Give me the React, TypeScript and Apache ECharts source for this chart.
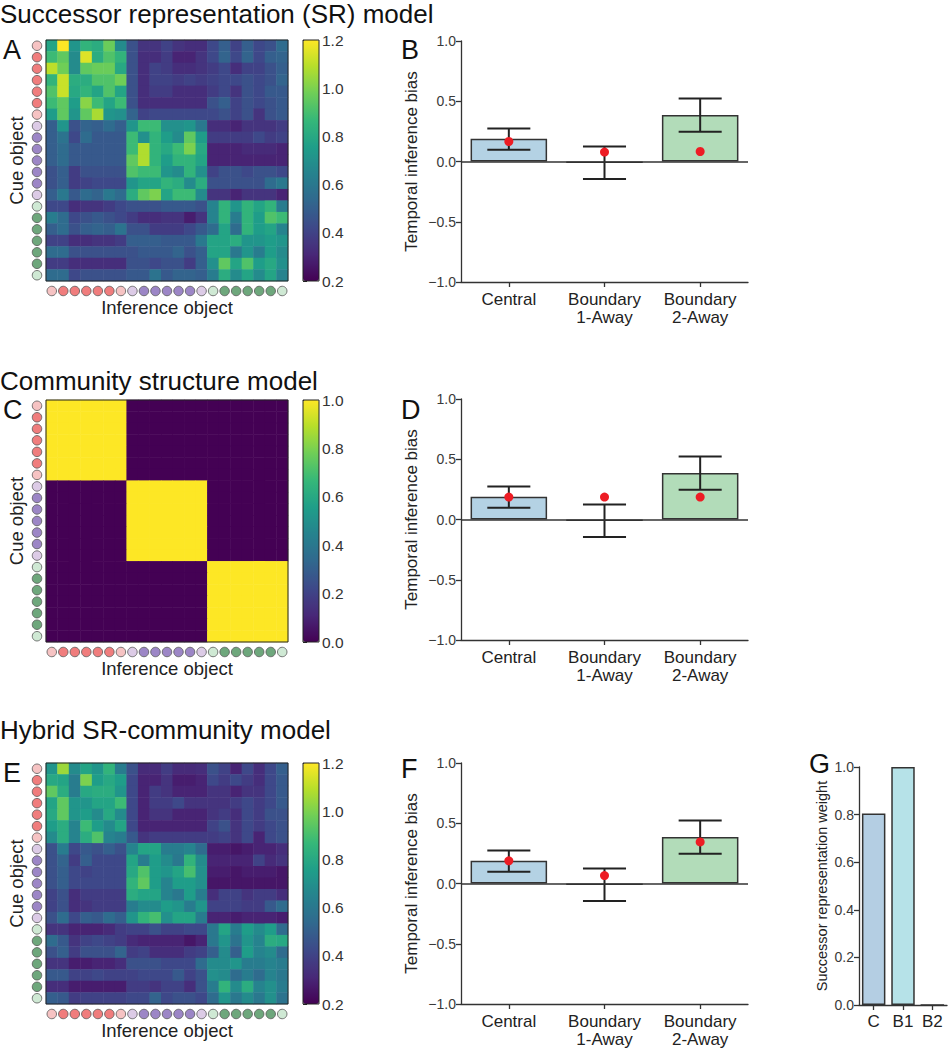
import React, { useEffect, useRef } from 'react';
import * as echarts from 'echarts';

const FONT = '"Liberation Sans", Arial, Helvetica, sans-serif';

const viridis = ['#440154', '#482878', '#3e4989', '#31688e', '#26828e', '#1f9e89', '#35b779', '#6ece58', '#b5de2b', '#fde725'];

const objectIds = ['1', '2', '3', '4', '5', '6', '7', '8', '9', '10', '11', '12', '13', '14', '15', '16', '17', '18', '19', '20', '21'];

const nodeColors = [
  '#f6c3c3', '#f07d7d', '#f07d7d', '#f07d7d', '#f07d7d', '#f07d7d', '#f6c3c3',
  '#dccbe6', '#9c86c6', '#9c86c6', '#9c86c6', '#9c86c6', '#9c86c6', '#dccbe6',
  '#cfe9d4', '#6ea77c', '#6ea77c', '#6ea77c', '#6ea77c', '#6ea77c', '#cfe9d4',
];

const srMatrix = [
  [0.78, 1.2, 0.72, 0.85, 0.82, 0.97, 0.68, 0.45, 0.35, 0.35, 0.4, 0.35, 0.33, 0.33, 0.42, 0.5, 0.4, 0.5, 0.42, 0.45, 0.55],
  [0.88, 0.95, 0.68, 1.15, 0.82, 0.92, 0.85, 0.45, 0.33, 0.33, 0.38, 0.3, 0.3, 0.35, 0.42, 0.52, 0.42, 0.52, 0.42, 0.5, 0.52],
  [1.1, 0.98, 0.68, 0.95, 0.97, 0.97, 0.8, 0.45, 0.33, 0.4, 0.38, 0.33, 0.33, 0.35, 0.38, 0.42, 0.33, 0.4, 0.4, 0.45, 0.5],
  [0.85, 1.12, 0.82, 0.82, 0.92, 0.92, 0.98, 0.45, 0.33, 0.4, 0.4, 0.38, 0.4, 0.38, 0.4, 0.42, 0.42, 0.45, 0.42, 0.45, 0.52],
  [0.92, 1.12, 0.8, 0.85, 0.78, 0.92, 0.78, 0.45, 0.33, 0.38, 0.38, 0.33, 0.33, 0.33, 0.38, 0.42, 0.35, 0.45, 0.42, 0.48, 0.48],
  [0.88, 0.95, 0.75, 1.02, 0.88, 0.78, 0.88, 0.45, 0.33, 0.33, 0.33, 0.33, 0.33, 0.33, 0.45, 0.5, 0.4, 0.45, 0.42, 0.45, 0.48],
  [0.75, 0.95, 0.72, 0.95, 1.07, 0.72, 0.7, 0.52, 0.4, 0.42, 0.42, 0.42, 0.42, 0.42, 0.42, 0.45, 0.4, 0.45, 0.35, 0.45, 0.48],
  [0.5, 0.72, 0.45, 0.52, 0.5, 0.55, 0.5, 0.72, 0.88, 0.88, 0.7, 0.7, 0.72, 0.6, 0.33, 0.33, 0.3, 0.35, 0.35, 0.35, 0.38],
  [0.5, 0.58, 0.42, 0.55, 0.48, 0.48, 0.48, 0.88, 0.7, 0.85, 0.75, 0.68, 0.95, 0.75, 0.38, 0.38, 0.38, 0.38, 0.42, 0.38, 0.4],
  [0.5, 0.55, 0.48, 0.48, 0.48, 0.48, 0.48, 0.88, 1.08, 0.85, 0.8, 0.88, 1.0, 0.8, 0.3, 0.3, 0.3, 0.32, 0.32, 0.32, 0.3],
  [0.5, 0.55, 0.48, 0.48, 0.48, 0.48, 0.48, 0.95, 1.08, 0.85, 0.75, 0.85, 0.85, 0.78, 0.3, 0.3, 0.3, 0.3, 0.3, 0.3, 0.3],
  [0.45, 0.5, 0.38, 0.45, 0.45, 0.45, 0.45, 0.92, 0.88, 0.88, 0.72, 0.68, 0.85, 0.7, 0.4, 0.45, 0.45, 0.42, 0.45, 0.45, 0.42],
  [0.45, 0.5, 0.38, 0.4, 0.42, 0.42, 0.42, 0.72, 0.78, 0.78, 0.85, 0.82, 0.68, 0.82, 0.45, 0.45, 0.45, 0.45, 0.45, 0.55, 0.6],
  [0.5, 0.6, 0.48, 0.55, 0.52, 0.6, 0.55, 0.82, 0.95, 1.0, 0.78, 0.88, 0.88, 0.68, 0.35, 0.35, 0.3, 0.35, 0.35, 0.35, 0.3],
  [0.42, 0.42, 0.33, 0.35, 0.35, 0.38, 0.42, 0.45, 0.45, 0.45, 0.48, 0.48, 0.48, 0.45, 0.65, 0.85, 0.72, 0.85, 0.78, 0.85, 0.62],
  [0.62, 0.55, 0.42, 0.45, 0.48, 0.45, 0.42, 0.38, 0.33, 0.33, 0.35, 0.35, 0.28, 0.35, 0.65, 0.85, 0.62, 0.85, 0.75, 0.92, 0.88],
  [0.5, 0.55, 0.45, 0.5, 0.52, 0.5, 0.58, 0.45, 0.45, 0.38, 0.38, 0.38, 0.42, 0.48, 0.55, 0.78, 0.55, 0.85, 0.75, 0.78, 0.65],
  [0.4, 0.4, 0.33, 0.33, 0.35, 0.35, 0.38, 0.5, 0.5, 0.5, 0.48, 0.48, 0.48, 0.6, 0.78, 0.78, 0.82, 0.72, 0.72, 0.75, 0.72],
  [0.55, 0.55, 0.45, 0.45, 0.45, 0.45, 0.45, 0.45, 0.48, 0.48, 0.48, 0.52, 0.45, 0.5, 0.78, 0.78, 0.6, 0.72, 0.62, 0.75, 0.68],
  [0.38, 0.38, 0.33, 0.33, 0.33, 0.33, 0.33, 0.45, 0.45, 0.42, 0.45, 0.45, 0.38, 0.5, 0.7, 0.95, 0.78, 0.92, 0.75, 0.8, 0.7],
  [0.55, 0.55, 0.42, 0.45, 0.45, 0.45, 0.45, 0.48, 0.48, 0.58, 0.48, 0.52, 0.52, 0.5, 0.62, 0.82, 0.68, 0.78, 0.68, 0.78, 0.65],
];

const communityMatrix = [
  [1, 1, 1, 1, 1, 1, 1, 0, 0, 0, 0, 0, 0, 0, 0, 0, 0, 0, 0, 0, 0],
  [1, 1, 1, 1, 1, 1, 1, 0, 0, 0, 0, 0, 0, 0, 0, 0, 0, 0, 0, 0, 0],
  [1, 1, 1, 1, 1, 1, 1, 0, 0, 0, 0, 0, 0, 0, 0, 0, 0, 0, 0, 0, 0],
  [1, 1, 1, 1, 1, 1, 1, 0, 0, 0, 0, 0, 0, 0, 0, 0, 0, 0, 0, 0, 0],
  [1, 1, 1, 1, 1, 1, 1, 0, 0, 0, 0, 0, 0, 0, 0, 0, 0, 0, 0, 0, 0],
  [1, 1, 1, 1, 1, 1, 1, 0, 0, 0, 0, 0, 0, 0, 0, 0, 0, 0, 0, 0, 0],
  [1, 1, 1, 1, 1, 1, 1, 0, 0, 0, 0, 0, 0, 0, 0, 0, 0, 0, 0, 0, 0],
  [0, 0, 0, 0, 0, 0, 0, 1, 1, 1, 1, 1, 1, 1, 0, 0, 0, 0, 0, 0, 0],
  [0, 0, 0, 0, 0, 0, 0, 1, 1, 1, 1, 1, 1, 1, 0, 0, 0, 0, 0, 0, 0],
  [0, 0, 0, 0, 0, 0, 0, 1, 1, 1, 1, 1, 1, 1, 0, 0, 0, 0, 0, 0, 0],
  [0, 0, 0, 0, 0, 0, 0, 1, 1, 1, 1, 1, 1, 1, 0, 0, 0, 0, 0, 0, 0],
  [0, 0, 0, 0, 0, 0, 0, 1, 1, 1, 1, 1, 1, 1, 0, 0, 0, 0, 0, 0, 0],
  [0, 0, 0, 0, 0, 0, 0, 1, 1, 1, 1, 1, 1, 1, 0, 0, 0, 0, 0, 0, 0],
  [0, 0, 0, 0, 0, 0, 0, 1, 1, 1, 1, 1, 1, 1, 0, 0, 0, 0, 0, 0, 0],
  [0, 0, 0, 0, 0, 0, 0, 0, 0, 0, 0, 0, 0, 0, 1, 1, 1, 1, 1, 1, 1],
  [0, 0, 0, 0, 0, 0, 0, 0, 0, 0, 0, 0, 0, 0, 1, 1, 1, 1, 1, 1, 1],
  [0, 0, 0, 0, 0, 0, 0, 0, 0, 0, 0, 0, 0, 0, 1, 1, 1, 1, 1, 1, 1],
  [0, 0, 0, 0, 0, 0, 0, 0, 0, 0, 0, 0, 0, 0, 1, 1, 1, 1, 1, 1, 1],
  [0, 0, 0, 0, 0, 0, 0, 0, 0, 0, 0, 0, 0, 0, 1, 1, 1, 1, 1, 1, 1],
  [0, 0, 0, 0, 0, 0, 0, 0, 0, 0, 0, 0, 0, 0, 1, 1, 1, 1, 1, 1, 1],
  [0, 0, 0, 0, 0, 0, 0, 0, 0, 0, 0, 0, 0, 0, 1, 1, 1, 1, 1, 1, 1],
];

const hybridMatrix = [
  [0.72, 1.05, 0.68, 0.78, 0.72, 0.85, 0.62, 0.45, 0.32, 0.32, 0.38, 0.32, 0.32, 0.33, 0.45, 0.4, 0.3, 0.42, 0.33, 0.42, 0.5],
  [0.8, 0.78, 0.62, 1.0, 0.75, 0.8, 0.75, 0.42, 0.3, 0.3, 0.35, 0.28, 0.28, 0.3, 0.42, 0.38, 0.42, 0.38, 0.33, 0.42, 0.48],
  [0.95, 0.82, 0.62, 0.8, 0.82, 0.82, 0.72, 0.42, 0.3, 0.38, 0.35, 0.3, 0.3, 0.3, 0.35, 0.35, 0.3, 0.35, 0.35, 0.42, 0.48],
  [0.78, 0.95, 0.72, 0.72, 0.78, 0.78, 0.88, 0.42, 0.3, 0.38, 0.38, 0.42, 0.35, 0.35, 0.35, 0.35, 0.38, 0.42, 0.38, 0.42, 0.48],
  [0.8, 0.95, 0.72, 0.75, 0.68, 0.8, 0.68, 0.42, 0.3, 0.35, 0.35, 0.3, 0.3, 0.3, 0.35, 0.38, 0.33, 0.42, 0.38, 0.45, 0.45],
  [0.75, 0.82, 0.65, 0.88, 0.75, 0.68, 0.78, 0.42, 0.3, 0.3, 0.3, 0.3, 0.3, 0.3, 0.4, 0.45, 0.35, 0.42, 0.38, 0.42, 0.45],
  [0.68, 0.82, 0.65, 0.82, 0.92, 0.65, 0.62, 0.48, 0.35, 0.38, 0.38, 0.38, 0.38, 0.38, 0.38, 0.4, 0.35, 0.42, 0.3, 0.42, 0.45],
  [0.45, 0.62, 0.42, 0.48, 0.45, 0.5, 0.45, 0.65, 0.78, 0.78, 0.62, 0.62, 0.65, 0.55, 0.28, 0.28, 0.26, 0.28, 0.3, 0.3, 0.33],
  [0.45, 0.52, 0.38, 0.5, 0.42, 0.42, 0.42, 0.78, 0.62, 0.75, 0.68, 0.6, 0.85, 0.68, 0.3, 0.3, 0.3, 0.3, 0.4, 0.32, 0.35],
  [0.45, 0.5, 0.42, 0.4, 0.42, 0.42, 0.42, 0.8, 0.92, 0.75, 0.72, 0.78, 0.9, 0.7, 0.28, 0.28, 0.26, 0.28, 0.28, 0.28, 0.26],
  [0.45, 0.5, 0.42, 0.42, 0.42, 0.42, 0.42, 0.85, 0.95, 0.75, 0.65, 0.75, 0.75, 0.7, 0.26, 0.26, 0.26, 0.26, 0.26, 0.26, 0.26],
  [0.4, 0.45, 0.33, 0.38, 0.38, 0.38, 0.38, 0.82, 0.78, 0.78, 0.65, 0.6, 0.75, 0.62, 0.33, 0.4, 0.4, 0.35, 0.38, 0.38, 0.33],
  [0.4, 0.45, 0.33, 0.35, 0.38, 0.38, 0.38, 0.62, 0.68, 0.68, 0.75, 0.72, 0.62, 0.72, 0.4, 0.4, 0.4, 0.38, 0.38, 0.48, 0.55],
  [0.45, 0.55, 0.42, 0.5, 0.48, 0.55, 0.5, 0.72, 0.85, 0.9, 0.7, 0.78, 0.78, 0.62, 0.3, 0.3, 0.28, 0.3, 0.3, 0.3, 0.28],
  [0.35, 0.35, 0.3, 0.3, 0.3, 0.32, 0.38, 0.4, 0.4, 0.45, 0.4, 0.4, 0.42, 0.42, 0.6, 0.78, 0.62, 0.75, 0.68, 0.75, 0.55],
  [0.55, 0.48, 0.35, 0.4, 0.42, 0.4, 0.38, 0.32, 0.3, 0.3, 0.3, 0.3, 0.26, 0.3, 0.6, 0.72, 0.58, 0.72, 0.65, 0.82, 0.8],
  [0.45, 0.5, 0.38, 0.45, 0.45, 0.45, 0.52, 0.38, 0.4, 0.33, 0.33, 0.33, 0.38, 0.4, 0.5, 0.68, 0.5, 0.75, 0.65, 0.68, 0.55],
  [0.35, 0.35, 0.28, 0.28, 0.3, 0.3, 0.33, 0.45, 0.45, 0.45, 0.42, 0.42, 0.42, 0.55, 0.68, 0.68, 0.72, 0.62, 0.62, 0.65, 0.62],
  [0.48, 0.48, 0.4, 0.4, 0.42, 0.4, 0.4, 0.4, 0.42, 0.42, 0.42, 0.48, 0.4, 0.45, 0.7, 0.68, 0.55, 0.62, 0.55, 0.65, 0.6],
  [0.33, 0.33, 0.28, 0.28, 0.28, 0.28, 0.28, 0.38, 0.38, 0.35, 0.4, 0.4, 0.33, 0.45, 0.62, 0.85, 0.68, 0.82, 0.65, 0.7, 0.62],
  [0.5, 0.48, 0.38, 0.4, 0.4, 0.4, 0.4, 0.42, 0.42, 0.52, 0.42, 0.45, 0.45, 0.42, 0.55, 0.72, 0.6, 0.68, 0.6, 0.7, 0.58],
];

const biasCategories = ['Central', 'Boundary\n1-Away', 'Boundary\n2-Away'];
const humanMean = [0.188, -0.013, 0.385];
const humanErrLow = [0.097, -0.146, 0.247];
const humanErrHigh = [0.273, 0.124, 0.522];
const srModelPred = [0.166, 0.078, 0.083];
const communityModelPred = [0.186, 0.186, 0.186];
const hybridModelPred = [0.188, 0.066, 0.345];
const biasColors = ['#b4d2e4', '#b6e2e8', '#b2dcb9'];

const weightCategories = ['C', 'B1', 'B2'];
const srWeights = [0.805, 1.0, 0.0];
const weightColors = ['#b4cee3', '#b6e2e8', '#b2dcb9'];

const srTicks = [0.2, 1.2];
const communityTicks = [0, 1];

function fmt(v: number) {
  const s = Math.abs(v) < 1e-9 ? '0.0' : v.toFixed(1);
  return s.replace('-', '\u2212');
}

function buildOption() {
  const grid: any[] = [];
  const xAxis: any[] = [];
  const yAxis: any[] = [];
  const series: any[] = [];
  const visualMap: any[] = [];

  const addGrid = (g: any) => { grid.push(g); return grid.length - 1; };
  const addX = (a: any) => { xAxis.push(a); return xAxis.length - 1; };
  const addY = (a: any) => { yAxis.push(a); return yAxis.length - 1; };

  const hidden = { show: false };
  const axisLineStyle = { color: '#333', width: 1.3 };

  const heatPanels = [
    { matrix: srMatrix, top: 40, h: 241, range: srTicks },
    { matrix: communityMatrix, top: 400, h: 242, range: communityTicks },
    { matrix: hybridMatrix, top: 763, h: 241, range: srTicks },
  ];

  heatPanels.forEach((p) => {
    const g = addGrid({ left: 46, top: p.top, width: 242, height: p.h, show: true, backgroundColor: 'transparent', borderColor: '#222', borderWidth: 1, z: 10 });
    const xi = addX({
      type: 'category', gridIndex: g, data: objectIds,
      axisLine: hidden, axisTick: hidden, axisLabel: hidden, splitLine: hidden,
      name: 'Inference object', nameLocation: 'middle', nameGap: 17,
      nameTextStyle: { fontSize: 18.5, color: '#222', fontFamily: FONT },
    });
    const yi = addY({
      type: 'category', gridIndex: g, data: objectIds, inverse: true,
      axisLine: hidden, axisTick: hidden, axisLabel: hidden, splitLine: hidden,
      name: 'Cue object', nameLocation: 'middle', nameGap: 20,
      nameTextStyle: { fontSize: 18.5, color: '#222', fontFamily: FONT },
    });
    const data: any[] = [];
    p.matrix.forEach((row, r) => row.forEach((v, c) => data.push([c, r, v])));
    series.push({
      type: 'heatmap', xAxisIndex: xi, yAxisIndex: yi, data,
      itemStyle: { borderWidth: 0 }, emphasis: { disabled: true }, progressive: 0,
    });
  });

  heatPanels.forEach((p, i) => {
    const cg = addGrid({ left: 303, top: p.top, width: 16, height: p.h, show: true, backgroundColor: 'transparent', borderColor: '#222', borderWidth: 1, z: 10 });
    addX({ type: 'value', gridIndex: cg, show: false, min: 0, max: 1 });
    addY({
      type: 'value', gridIndex: cg, min: p.range[0], max: p.range[1], interval: 0.2, position: 'right',
      axisLine: hidden, splitLine: hidden,
      axisTick: { show: true, length: 4, lineStyle: { color: '#222', width: 1 } },
      axisLabel: { margin: 3, fontSize: 15.5, color: '#333', fontFamily: FONT, formatter: (v: number) => fmt(v) },
    });
    visualMap.push({
      type: 'continuous', seriesIndex: i, dimension: 2, min: p.range[0], max: p.range[1],
      calculable: false, hoverLink: false, left: 303, top: p.top, itemWidth: 16, itemHeight: p.h,
      padding: 0, inRange: { color: viridis }, orient: 'vertical',
    });

    const bg = addGrid({ left: 46, top: p.top + p.h + 5, width: 242, height: 10 });
    const bx = addX({ type: 'category', gridIndex: bg, data: objectIds, show: false });
    const by = addY({ type: 'value', gridIndex: bg, min: -1, max: 1, show: false });
    series.push({
      type: 'scatter', xAxisIndex: bx, yAxisIndex: by, symbolSize: 9.5, silent: true,
      itemStyle: { borderColor: '#555', borderWidth: 0.8, opacity: 1 },
      data: nodeColors.map((c, k) => ({ value: [k, 0], itemStyle: { color: c } })),
    });
    const lg = addGrid({ left: 32, top: p.top, width: 10, height: p.h });
    const lx = addX({ type: 'value', gridIndex: lg, min: -1, max: 1, show: false });
    const ly = addY({ type: 'category', gridIndex: lg, data: objectIds, inverse: true, show: false });
    series.push({
      type: 'scatter', xAxisIndex: lx, yAxisIndex: ly, symbolSize: 9.5, silent: true,
      itemStyle: { borderColor: '#555', borderWidth: 0.8, opacity: 1 },
      data: nodeColors.map((c, k) => ({ value: [0, k], itemStyle: { color: c } })),
    });
  });

  const barPanels = [
    { top: 41, pred: srModelPred },
    { top: 399, pred: communityModelPred },
    { top: 763, pred: hybridModelPred },
  ];

  barPanels.forEach((p) => {
    const g = addGrid({ left: 461, top: p.top, width: 287, height: 241 });
    const xi = addX({
      type: 'category', gridIndex: g, data: biasCategories,
      axisLine: { show: true, onZero: false, lineStyle: axisLineStyle },
      axisTick: { show: true, alignWithLabel: true, length: 5, lineStyle: axisLineStyle },
      axisLabel: { fontSize: 17, color: '#222', lineHeight: 18, margin: 8, fontFamily: FONT },
    });
    const yi = addY({
      type: 'value', gridIndex: g, min: -1, max: 1, interval: 0.5,
      axisLine: { show: true, lineStyle: axisLineStyle },
      axisTick: { show: true, length: 5, lineStyle: axisLineStyle },
      splitLine: hidden,
      axisLabel: { fontSize: 14, color: '#3a3a3a', margin: 5, fontFamily: FONT, formatter: (v: number) => fmt(v) },
      name: 'Temporal inference bias', nameLocation: 'middle', nameGap: 41,
      nameTextStyle: { fontSize: 17, color: '#222', fontFamily: FONT },
    });
    series.push({
      type: 'bar', xAxisIndex: xi, yAxisIndex: yi, barWidth: '80%', silent: true,
      itemStyle: { borderColor: '#333', borderWidth: 1.5 },
      data: humanMean.map((v, k) => ({ value: v, itemStyle: { color: biasColors[k] } })),
      markLine: {
        silent: true, symbol: 'none', label: { show: false },
        lineStyle: { color: '#333', width: 1.5, type: 'solid' },
        data: [{ yAxis: 0 }],
      },
    });
    series.push({
      type: 'custom', xAxisIndex: xi, yAxisIndex: yi, silent: true, z: 3,
      encode: { x: 0, y: [1, 2] },
      data: humanMean.map((_, k) => [k, humanErrLow[k], humanErrHigh[k]]),
      renderItem: (params: any, api: any) => {
        const x = api.value(0);
        const lo = api.coord([x, api.value(1)]);
        const hi = api.coord([x, api.value(2)]);
        const half = api.size([1, 0])[0] * 0.225;
        const style = { stroke: '#222', lineWidth: 2 };
        return {
          type: 'group',
          children: [
            { type: 'line', shape: { x1: lo[0], y1: lo[1], x2: hi[0], y2: hi[1] }, style },
            { type: 'line', shape: { x1: lo[0] - half, y1: lo[1], x2: lo[0] + half, y2: lo[1] }, style },
            { type: 'line', shape: { x1: hi[0] - half, y1: hi[1], x2: hi[0] + half, y2: hi[1] }, style },
          ],
        };
      },
    });
    series.push({
      type: 'scatter', xAxisIndex: xi, yAxisIndex: yi, symbolSize: 9, z: 4, silent: true,
      itemStyle: { color: '#ed1c24', opacity: 1 },
      data: p.pred.map((v, k) => [k, v]),
    });
  });

  const gg = addGrid({ left: 859, top: 767, width: 88, height: 238 });
  const gx = addX({
    type: 'category', gridIndex: gg, data: weightCategories,
    axisLine: { show: true, lineStyle: axisLineStyle },
    axisTick: { show: true, alignWithLabel: true, length: 5, lineStyle: axisLineStyle },
    axisLabel: { fontSize: 17, color: '#222', margin: 8, fontFamily: FONT },
  });
  const gy = addY({
    type: 'value', gridIndex: gg, min: 0, max: 1, interval: 0.2,
    axisLine: { show: true, lineStyle: axisLineStyle },
    axisTick: { show: true, length: 5, lineStyle: axisLineStyle },
    splitLine: hidden,
    axisLabel: { fontSize: 14, color: '#3a3a3a', margin: 5, fontFamily: FONT, formatter: (v: number) => fmt(v) },
    name: 'Successor representation weight', nameLocation: 'middle', nameGap: 30,
    nameTextStyle: { fontSize: 14.5, color: '#222', fontFamily: FONT },
  });
  series.push({
    type: 'bar', xAxisIndex: gx, yAxisIndex: gy, barWidth: '80%', silent: true,
    itemStyle: { borderColor: '#333', borderWidth: 1.5 },
    data: srWeights.map((v, k) => ({ value: v, itemStyle: { color: weightColors[k] } })),
  });

  const titleStyle = { fontSize: 26, fontWeight: 'normal', color: '#111', fontFamily: FONT };
  const letterStyle = { fontSize: 27, fontWeight: 'normal', color: '#111', fontFamily: FONT };
  const title = [
    { text: 'Successor representation (SR) model', left: 0, top: 1, padding: 0, textStyle: titleStyle },
    { text: 'Community structure model', left: 0, top: 368, padding: 0, textStyle: titleStyle },
    { text: 'Hybrid SR-community model', left: 0, top: 717, padding: 0, textStyle: titleStyle },
    { text: 'A', left: 3, top: 36, padding: 0, textStyle: letterStyle },
    { text: 'B', left: 401, top: 36, padding: 0, textStyle: letterStyle },
    { text: 'C', left: 3, top: 396, padding: 0, textStyle: letterStyle },
    { text: 'D', left: 401, top: 396, padding: 0, textStyle: letterStyle },
    { text: 'E', left: 3, top: 759, padding: 0, textStyle: letterStyle },
    { text: 'F', left: 401, top: 755, padding: 0, textStyle: letterStyle },
    { text: 'G', left: 809, top: 750, padding: 0, textStyle: letterStyle },
  ];

  return {
    animation: false,
    backgroundColor: '#fff',
    textStyle: { fontFamily: FONT },
    title,
    grid,
    xAxis,
    yAxis,
    visualMap,
    series,
  };
}

export default function App() {
  const ref = useRef<HTMLDivElement>(null);
  useEffect(() => {
    if (!ref.current) return;
    const chart = echarts.init(ref.current, null, { renderer: 'svg' });
    chart.setOption(buildOption() as any);
    return () => chart.dispose();
  }, []);
  return (
    <div
      ref={ref}
      style={{ position: 'absolute', left: 0, top: 0, width: 948, height: 1050, background: '#fff' }}
    />
  );
}
